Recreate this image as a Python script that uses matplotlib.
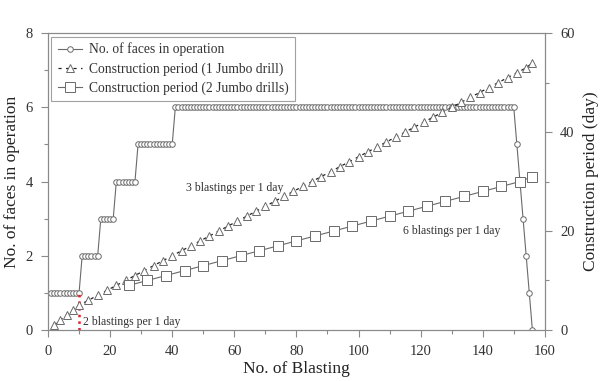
import matplotlib
matplotlib.use('Agg')
from matplotlib import pyplot as plt
from matplotlib.ticker import MultipleLocator

plt.rcParams['font.family'] = ['Liberation Serif', 'DejaVu Serif']
plt.rcParams['axes.edgecolor'] = '#8a8a8a'
plt.rcParams['xtick.color'] = '#8a8a8a'
plt.rcParams['ytick.color'] = '#8a8a8a'
plt.rcParams['xtick.labelcolor'] = '#333333'
plt.rcParams['ytick.labelcolor'] = '#333333'

# faces in operation, one value per blasting (1..156)
blast_no = list(range(1, 157))
faces = [1] * 10 + [2] * 6 + [3] * 5 + [4] * 7 + [5] * 12 + [6] * 110 + [5, 4, 3, 2, 1, 0]

# construction period, 1 jumbo drill
one_drill_blast = [2, 4, 6, 8, 10, 13, 16, 19, 22, 25, 28, 31, 34, 37, 40, 43, 46, 49,
                   52, 55, 58, 61, 64, 67, 70, 73, 76, 79, 82, 85, 88, 91, 94, 97, 100,
                   103, 106, 109, 112, 115, 118, 121, 124, 127, 130, 133, 136, 139, 142,
                   145, 148, 151, 154, 156]
one_drill_day = [1, 2, 3, 4, 5, 6, 7, 8, 9, 10, 11, 12, 13, 14, 15, 16, 17, 18, 19, 20,
                 21, 22, 23, 24, 25, 26, 27, 28, 29, 30, 31, 32, 33, 34, 35, 36, 37, 38,
                 39, 40, 41, 42, 43, 44, 45, 46, 47, 48, 49, 50, 51, 52, 53, 54]

# construction period, 2 jumbo drills
two_drill_blast = [26, 32, 38, 44, 50, 56, 62, 68, 74, 80, 86, 92, 98, 104, 110, 116,
                   122, 128, 134, 140, 146, 152, 156]
two_drill_day = [9, 10, 11, 12, 13, 14, 15, 16, 17, 18, 19, 20, 21, 22, 23, 24, 25, 26,
                 27, 28, 29, 30, 31]

labels = ['No. of faces in operation',
          'Construction period (1 Jumbo drill)',
          'Construction period (2 Jumbo drills)']

fig = plt.figure(figsize=(6.04, 3.81), dpi=100)
ax = fig.add_axes([0.0795, 0.134, 0.8225, 0.779])
ax2 = ax.twinx()

l1, = ax.plot(blast_no, faces, '-', color='#6a6a6a', lw=0.8, marker='o', ms=4,
              mfc='white', mec='#6a6a6a', mew=0.7, label=labels[0], zorder=3)
ax.plot([10, 10], [0, 1], ':', color='#e0202a', lw=1.8, zorder=4)

l2, = ax2.plot(one_drill_blast, one_drill_day, '--', color='#222222', lw=0.9,
               dashes=(2.5, 3.5), marker='^', ms=6, mfc='white', mec='#6a6a6a',
               mew=0.7, label=labels[1])
l3, = ax2.plot(two_drill_blast, two_drill_day, '-', color='#6a6a6a', lw=0.8,
               marker='s', ms=6.5, mfc='white', mec='#6a6a6a', mew=0.7, label=labels[2])

ax.set_xlim(0, 160)
ax.set_ylim(0, 8)
ax2.set_ylim(0, 60)

ax.xaxis.set_major_locator(MultipleLocator(20))
ax.xaxis.set_minor_locator(MultipleLocator(10))
ax.yaxis.set_major_locator(MultipleLocator(2))
ax.yaxis.set_minor_locator(MultipleLocator(1))
ax2.yaxis.set_major_locator(MultipleLocator(20))
ax2.yaxis.set_minor_locator(MultipleLocator(10))

for a in (ax, ax2):
    a.tick_params(which='major', length=5, width=0.8, labelsize=10.5, pad=6)
    a.tick_params(which='minor', length=3, width=0.8)

ax.set_xlabel('No. of Blasting', fontsize=12.5, color='#222222', labelpad=2)
ax.set_ylabel('No. of faces in operation', fontsize=12.5, color='#222222', labelpad=4)
ax2.set_ylabel('Construction period (day)', fontsize=12.5, color='#222222', labelpad=6)

ax.text(60, 3.82, '3 blastings per 1 day', fontsize=8.5, color='#333333',
        ha='center', va='center')
ax.text(130, 2.66, '6 blastings per 1 day', fontsize=8.5, color='#333333',
        ha='center', va='center')
ax.text(11.2, 0.22, '2 blastings per 1 day', fontsize=8.5, color='#333333',
        ha='left', va='center')

leg = ax.legend(handles=[l1, l2, l3], loc='upper left', fontsize=9.8, frameon=True,
                fancybox=False, edgecolor='#8a8a8a', handlelength=1.8,
                borderaxespad=0.25, labelspacing=0.42, handletextpad=0.5,
                borderpad=0.45)
leg.get_frame().set_linewidth(0.8)
for t in leg.get_texts():
    t.set_color('#333333')

fig.savefig('out.png', dpi=100)
